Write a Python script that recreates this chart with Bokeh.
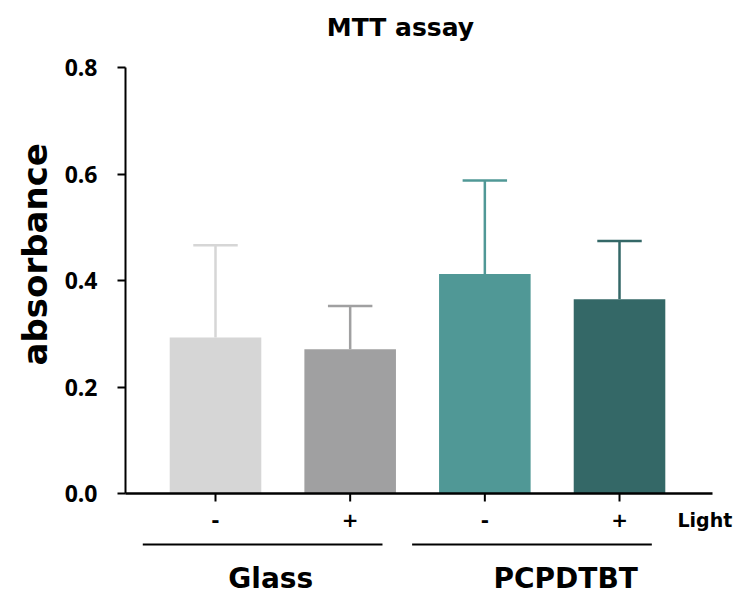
from bokeh.plotting import figure
from bokeh.models import Range1d, FixedTicker, Title, CustomJSTickFormatter
from bokeh.embed import file_html
from bokeh.resources import INLINE
from bokeh.core.properties import value

# ---- data ----
title_text = "MTT assay"
y_label = "absorbance"
light_title = "Light"
light_labels = ["-", "+", "-", "+"]
groups = ["Glass", "PCPDTBT"]
group_members = [[0, 1], [2, 3]]
means = [0.293, 0.271, 0.412, 0.365]
upper_err = [0.173, 0.081, 0.176, 0.109]
bar_colors = ["#d6d6d6", "#a0a0a1", "#509896", "#346867"]
y_ticks = [0.0, 0.2, 0.4, 0.6, 0.8]

FONT = "Open Sans"
WIDE = "DejaVu Sans"
xs = list(range(len(means)))

# ---- layout constants (page pixels; figure sits at the page origin) ----
OFF = 0
PX_X = 134.67    # px per category step
X0_PX = 215.0    # page x of first category
PX_Y = 532.5     # px per absorbance unit
Y0_PX = 493.0    # page y of absorbance 0
LEFT = 125       # left border (figure px)


def fx(px):
    return (px - X0_PX) / PX_X


def fy(py):
    return (Y0_PX - py) / PX_Y


W, H = 735, 594
p = figure(width=W, height=H, output_backend="svg", toolbar_location=None,
           x_range=Range1d(fx(OFF + LEFT), fx(OFF + W)),
           y_range=Range1d(fy(OFF + H), fy(OFF)),
           x_axis_location=None,
           min_border_left=LEFT, min_border_top=0, min_border_right=0,
           min_border_bottom=0)
p.outline_line_color = None
p.grid.grid_line_color = None

# bars
p.vbar(x=xs, top=means, bottom=0, width=0.68, fill_color=bar_colors,
       line_color=None)

# error bars (upper only)
tops = [m + e for m, e in zip(means, upper_err)]
p.segment(x0=xs, y0=means, x1=xs, y1=tops, line_color=bar_colors, line_width=2.5)
cap = 0.165
p.segment(x0=[x - cap for x in xs], y0=tops, x1=[x + cap for x in xs], y1=tops,
          line_color=bar_colors, line_width=2.5)

# y axis
ya = p.yaxis[0]
ya.bounds = (y_ticks[0], y_ticks[-1])
ya.ticker = FixedTicker(ticks=y_ticks)
ya.formatter = CustomJSTickFormatter(code="return tick.toFixed(1);")
ya.major_label_text_font = FONT
ya.major_label_text_font_style = "bold"
ya.major_label_text_font_size = "23px"
ya.major_label_text_color = "black"
ya.major_label_standoff = 20
ya.major_tick_in = 0
ya.major_tick_out = 8
ya.minor_tick_line_color = None
ya.axis_line_width = 2
ya.major_tick_line_width = 2
ya.axis_line_color = "black"
ya.major_tick_line_color = "black"

# y label as a side title, placed along the axis like the reference
frame_bottom_page = OFF + H
p.add_layout(Title(text=y_label, align="left", offset=frame_bottom_page - 365,
                   text_font=WIDE, text_font_style="bold",
                   text_font_size="34px", text_color="black", standoff=14),
             "left")

# x axis drawn at y = 0
p.segment(x0=[fx(118)], y0=[0], x1=[fx(712)], y1=[0], line_color="black",
          line_width=2.5)
p.segment(x0=xs, y0=[0] * 4, x1=xs, y1=[fy(501)] * 4, line_color="black",
          line_width=2)
p.text(x=xs, y=[fy(519)] * 4, text=light_labels, text_align="center",
       text_baseline="middle", text_font=value(WIDE), text_font_style="bold",
       text_font_size="20px", text_color="black")
p.text(x=[fx(677)], y=[fy(519)], text=[light_title], text_align="left",
       text_baseline="middle", text_font=value(WIDE), text_font_style="bold",
       text_font_size="19px", text_color="black")

# group lines and labels
gx0 = [min(m) - 0.54 for m in group_members]
gx1 = [max(m) + 0.24 for m in group_members]
p.segment(x0=gx0, y0=[fy(544)] * 2, x1=gx1, y1=[fy(544)] * 2,
          line_color="black", line_width=2)
gcx = [sum(m) / len(m) - 0.09 + 0.19 * i for i, m in enumerate(group_members)]
p.text(x=gcx, y=[fy(578)] * 2, text=groups, text_align="center",
       text_baseline="middle", text_font=value(WIDE), text_font_style="bold",
       text_font_size="28px", text_color="black")

# title
p.text(x=[fx(400)], y=[fy(27)], text=[title_text], text_align="center",
       text_baseline="middle", text_font=value(WIDE), text_font_style="bold",
       text_font_size="25px", text_color="black")

open("out.html", "w").write(file_html(p, INLINE))
